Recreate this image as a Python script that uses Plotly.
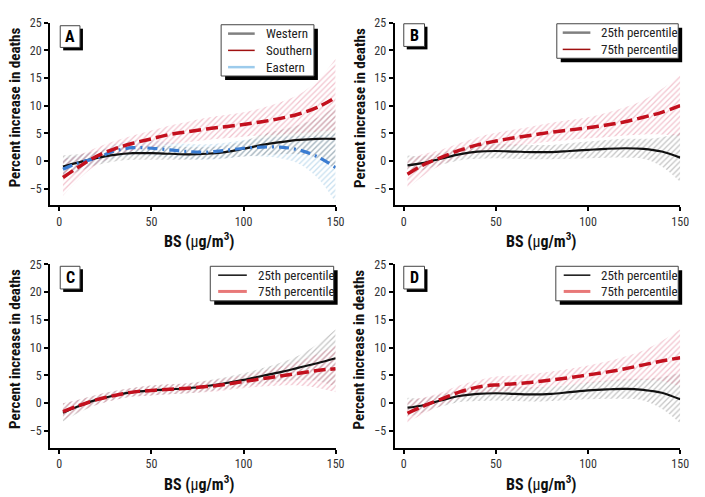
import plotly.graph_objects as go

W, H = 705, 497
FONT = "Liberation Sans Narrow, Arial Narrow, Roboto Condensed, Liberation Sans, sans-serif"

# ---------------- data ----------------
bs = [2, 10, 20, 30, 40, 50, 60, 70, 80, 90, 100, 110, 120, 130, 140, 150]

# Panel A: regions
a_west = [-1.0, -0.3, 0.5, 1.1, 1.4, 1.4, 1.3, 1.2, 1.3, 1.6, 2.2, 2.9, 3.4, 3.8, 4.0, 4.0]
a_west_lo = [-3.0, -2.0, -0.8, -0.1, 0.2, 0.2, 0.2, 0.2, 0.3, 0.5, 0.8, 1.0, 1.2, 1.2, 0.5, -1.5]
a_west_hi = [1.0, 1.2, 1.8, 2.4, 2.7, 2.8, 2.7, 2.5, 2.5, 2.8, 3.6, 4.8, 5.6, 6.5, 7.8, 9.8]
a_south = [-3.0, -1.2, 0.8, 2.2, 3.2, 4.0, 4.8, 5.3, 5.8, 6.2, 6.6, 7.1, 7.7, 8.5, 9.7, 11.5]
a_south_lo = [-6.3, -3.5, -0.8, 0.8, 1.8, 2.4, 3.0, 3.4, 3.8, 4.1, 4.4, 4.6, 4.8, 5.0, 5.3, 5.5]
a_south_hi = [0.3, 1.0, 2.4, 3.6, 4.6, 5.5, 6.4, 7.1, 7.8, 8.3, 8.8, 9.6, 10.6, 12.0, 14.5, 18.5]
a_east = [-1.5, -0.4, 0.5, 1.8, 2.4, 2.3, 2.0, 1.7, 1.6, 1.9, 2.3, 2.5, 2.5, 2.0, 0.8, -1.2]
a_east_lo = [-3.0, -1.8, -0.6, 0.5, 1.0, 0.9, 0.6, 0.3, 0.2, 0.4, 0.8, 0.8, 0.5, -0.5, -3.0, -7.5]
a_east_hi = [0.3, 1.0, 1.6, 3.0, 3.7, 3.7, 3.4, 3.1, 3.0, 3.3, 3.8, 4.1, 4.4, 4.5, 4.6, 5.0]

# Panel B
b_p25 = [-0.8, -0.4, 0.4, 1.2, 1.7, 1.8, 1.7, 1.6, 1.6, 1.8, 2.0, 2.2, 2.3, 2.2, 1.7, 0.6]
b_p25_lo = [-2.5, -1.7, -0.7, 0.1, 0.4, 0.5, 0.4, 0.3, 0.3, 0.4, 0.5, 0.6, 0.6, 0.4, -1.0, -3.8]
b_p25_hi = [1.0, 0.9, 1.5, 2.3, 3.0, 3.1, 3.0, 2.9, 2.9, 3.2, 3.5, 3.8, 4.0, 4.0, 4.3, 5.2]
b_p75 = [-2.4, -0.8, 0.6, 1.9, 2.9, 3.6, 4.2, 4.7, 5.2, 5.6, 6.0, 6.5, 7.1, 7.9, 8.8, 10.0]
b_p75_lo = [-5.0, -2.8, -0.8, 0.6, 1.5, 2.1, 2.7, 3.1, 3.5, 3.8, 4.1, 4.3, 4.6, 4.8, 4.8, 4.5]
b_p75_hi = [0.3, 1.2, 2.0, 3.2, 4.3, 5.1, 5.7, 6.3, 6.9, 7.4, 7.9, 8.7, 9.7, 11.0, 13.0, 15.5]

# Panel C
c_p25 = [-1.7, -0.6, 0.6, 1.4, 2.0, 2.3, 2.5, 2.7, 3.1, 3.6, 4.2, 4.9, 5.6, 6.4, 7.2, 8.1]
c_p25_lo = [-3.3, -1.8, -0.3, 0.6, 1.2, 1.4, 1.6, 1.8, 2.1, 2.5, 3.0, 3.5, 3.9, 4.2, 4.0, 3.0]
c_p25_hi = [0.0, 0.6, 1.5, 2.2, 2.8, 3.2, 3.4, 3.6, 4.1, 4.7, 5.4, 6.3, 7.3, 8.6, 10.6, 13.3]
c_p75 = [-1.5, -0.5, 0.6, 1.4, 2.0, 2.3, 2.5, 2.7, 3.0, 3.4, 3.9, 4.4, 4.9, 5.4, 5.9, 6.2]
c_p75_lo = [-3.0, -1.6, -0.3, 0.6, 1.2, 1.4, 1.6, 1.8, 2.0, 2.3, 2.7, 3.0, 3.2, 3.2, 2.8, 2.0]
c_p75_hi = [0.0, 0.6, 1.5, 2.2, 2.8, 3.2, 3.4, 3.6, 4.0, 4.5, 5.1, 5.8, 6.6, 7.6, 8.8, 10.5]

# Panel D
d_p25 = [-0.8, -0.4, 0.5, 1.3, 1.7, 1.8, 1.7, 1.6, 1.7, 2.0, 2.3, 2.5, 2.6, 2.4, 1.9, 0.7]
d_p25_lo = [-2.5, -1.7, -0.6, 0.2, 0.4, 0.5, 0.4, 0.3, 0.4, 0.6, 0.7, 0.8, 0.8, 0.5, -1.0, -3.6]
d_p25_hi = [1.0, 0.9, 1.6, 2.4, 3.0, 3.2, 3.0, 2.9, 3.0, 3.3, 3.8, 4.1, 4.4, 4.4, 4.7, 5.5]
d_p75 = [-1.8, -0.6, 0.7, 2.0, 2.9, 3.3, 3.5, 3.8, 4.2, 4.6, 5.1, 5.6, 6.2, 6.9, 7.6, 8.2]
d_p75_lo = [-3.5, -2.0, -0.5, 0.8, 1.7, 2.0, 2.3, 2.6, 3.0, 3.3, 3.6, 3.9, 4.1, 4.2, 4.0, 3.0]
d_p75_hi = [0.5, 1.0, 1.9, 3.2, 4.1, 4.8, 5.0, 5.3, 5.7, 6.2, 6.8, 7.5, 8.4, 9.5, 11.2, 13.3]

x_ticks = [0, 50, 100, 150]
y_ticks = [-5, 0, 5, 10, 15, 20, 25]
panel_labels = ["A", "B", "C", "D"]
legend_names = {
    1: ["Western", "Southern", "Eastern"],
    2: ["25th percentile", "75th percentile"],
    3: ["25th percentile", "75th percentile"],
    4: ["25th percentile", "75th percentile"],
}
x_title = "<b>BS (</b>μ<b>g/m<sup>3</sup>)</b>"
y_title = "<b>Percent increase in deaths</b>"

# ---------------- styles ----------------
BLACK = "#111111"
RED = "#c3101e"
BLUE = "#3a7cd2"
HATCH_GRAY = "#8a8a8a"
HATCH_PINK = "#e58aa0"
HATCH_BLUE = "#8fbfe0"

STYLE = {
    "solid": dict(color=BLACK, width=2.2, dash="solid"),
    "dash": dict(color=RED, width=3.5, dash="12px,5px"),
    "dashdot": dict(color=BLUE, width=3.2, dash="10px,5px,2px,5px"),
}
LEG_KEYS = {
    1: [("#808080", 2.5), ("#a01010", 1.5), ("#9ccbec", 2.5)],
    2: [("#808080", 2.5), ("#a01010", 1.5)],
    3: [("#111111", 1.5), ("#e87878", 3)],
    4: [("#111111", 1.5), ("#e87878", 3)],
}

PANELS = {
    1: (50.7, 340.0, 16.0, 201.0),
    2: (399.7, 689.0, 16.0, 201.0),
    3: (50.7, 340.0, 261.0, 447.0),
    4: (399.7, 689.0, 261.0, 447.0),
}

def px(x):
    return x / W

def py(y):
    return 1 - y / H

fig = go.Figure()

def axes(i):
    return ("x", "y") if i == 1 else (f"x{i}", f"y{i}")

def add_band(i, lo, hi, hatch):
    xa, ya = axes(i)
    fig.add_trace(go.Scatter(x=bs, y=hi, xaxis=xa, yaxis=ya, mode="lines",
                             line=dict(width=0, shape="spline"), showlegend=False,
                             hoverinfo="skip"))
    fig.add_trace(go.Scatter(x=bs, y=lo, xaxis=xa, yaxis=ya, mode="lines",
                             line=dict(width=0, shape="spline"), fill="tonexty",
                             fillcolor="rgba(0,0,0,0)",
                             fillpattern=dict(shape="/", fgcolor=hatch, size=4, solidity=0.32),
                             showlegend=False, hoverinfo="skip"))

def add_line(i, y, style, name):
    xa, ya = axes(i)
    fig.add_trace(go.Scatter(x=bs, y=y, xaxis=xa, yaxis=ya, mode="lines", name=name,
                             line=dict(shape="spline", **STYLE[style]), showlegend=False))

add_band(1, a_east_lo, a_east_hi, HATCH_BLUE)
add_band(1, a_west_lo, a_west_hi, HATCH_GRAY)
add_band(1, a_south_lo, a_south_hi, HATCH_PINK)
add_line(1, a_west, "solid", "Western")
add_line(1, a_east, "dashdot", "Eastern")
add_line(1, a_south, "dash", "Southern")

add_band(2, b_p25_lo, b_p25_hi, HATCH_GRAY)
add_band(2, b_p75_lo, b_p75_hi, HATCH_PINK)
add_line(2, b_p25, "solid", "25th percentile")
add_line(2, b_p75, "dash", "75th percentile")

add_band(3, c_p25_lo, c_p25_hi, HATCH_GRAY)
add_band(3, c_p75_lo, c_p75_hi, HATCH_PINK)
add_line(3, c_p25, "solid", "25th percentile")
add_line(3, c_p75, "dash", "75th percentile")

add_band(4, d_p25_lo, d_p25_hi, HATCH_GRAY)
add_band(4, d_p75_lo, d_p75_hi, HATCH_PINK)
add_line(4, d_p25, "solid", "25th percentile")
add_line(4, d_p75, "dash", "75th percentile")

layout = dict(
    width=W, height=H, margin=dict(l=0, r=0, t=0, b=0),
    paper_bgcolor="white", plot_bgcolor="white",
    font=dict(family=FONT, size=12, color="#222222"),
    showlegend=False,
)

axis_common = dict(showgrid=False, zeroline=False, showline=True, linecolor="black",
                   linewidth=2, ticks="outside", ticklen=4, tickwidth=1.5, tickcolor="black",
                   tickfont=dict(family=FONT, size=12, color="#333333"))

shapes = []
annotations = []
for i, (l, r, t, b) in PANELS.items():
    sx = "" if i == 1 else str(i)
    layout[f"xaxis{sx}"] = dict(axis_common, domain=[px(l), px(r)], range=[-5, 150],
                                tickvals=x_ticks, anchor=f"y{sx}")
    layout[f"yaxis{sx}"] = dict(axis_common, domain=[py(b), py(t)], range=[-8, 25],
                                tickvals=y_ticks, anchor=f"x{sx}")
    xc = 202 if i in (1, 3) else 548
    annotations.append(dict(text=x_title, xref="paper", yref="paper", x=px(xc), y=py(b + 36),
                            xanchor="center", yanchor="middle", showarrow=False,
                            font=dict(family=FONT, size=16, color="#111111")))
    yl = 15 if i in (1, 3) else 364
    annotations.append(dict(text=y_title, xref="paper", yref="paper", x=px(yl),
                            y=py(t + 86), xanchor="center", yanchor="middle", showarrow=False,
                            textangle=-90, font=dict(family=FONT, size=15, color="#111111")))

LEG = {
    1: (224, 318, 18, 70),
    2: (564, 687, 17, 52),
    3: (213, 338, 263, 298),
    4: (563, 687, 263, 298),
}
LEG_ROWS = {1: (231, 258, 267, 27, 17), 2: (570, 598, 607, 26, 17),
            3: (221, 250, 259, 272, 16.5), 4: (571, 598, 607, 272, 16.5)}
for i, (l, r, t, b) in LEG.items():
    shapes.append(dict(type="rect", xref="paper", yref="paper", x0=px(l + 4), x1=px(r + 4),
                       y0=py(b + 4), y1=py(t + 4), fillcolor="black", line=dict(width=0), layer="above"))
    shapes.append(dict(type="rect", xref="paper", yref="paper", x0=px(l), x1=px(r),
                       y0=py(b), y1=py(t), fillcolor="white", line=dict(color="#444444", width=1), layer="above"))
    k0, k1, tx, y0, dy = LEG_ROWS[i]
    for j, (name, (col, wd)) in enumerate(zip(legend_names[i], LEG_KEYS[i])):
        yy = y0 + j * dy
        shapes.append(dict(type="line", xref="paper", yref="paper", x0=px(k0), x1=px(k1),
                           y0=py(yy), y1=py(yy), line=dict(color=col, width=wd), layer="above"))
        annotations.append(dict(text=name, xref="paper", yref="paper", x=px(tx), y=py(yy),
                                xanchor="left", yanchor="middle", showarrow=False,
                                font=dict(family=FONT, size=13, color="#222222")))

LBL = {1: (61, 81, 19, 41), 2: (409, 430, 17, 40), 3: (61, 81, 263, 286), 4: (409, 430, 263, 286)}
for (i, (l, r, t, b)), lab in zip(LBL.items(), panel_labels):
    shapes.append(dict(type="rect", xref="paper", yref="paper", x0=px(l + 3), x1=px(r + 3),
                       y0=py(b + 3), y1=py(t + 3), fillcolor="black", line=dict(width=0), layer="above"))
    shapes.append(dict(type="rect", xref="paper", yref="paper", x0=px(l), x1=px(r),
                       y0=py(b), y1=py(t), fillcolor="white", line=dict(color="#444444", width=1), layer="above"))
    annotations.append(dict(text=f"<b>{lab}</b>", xref="paper", yref="paper",
                            x=px((l + r) / 2), y=py((t + b) / 2), xanchor="center", yanchor="middle",
                            showarrow=False, font=dict(family=FONT, size=16, color="black")))

layout["shapes"] = shapes
layout["annotations"] = annotations
fig.update_layout(**layout)
fig.write_html(
    "out.html",
    config={"displayModeBar": False},
    post_script=(
        "document.body.style.margin='0';document.body.style.padding='0';"
        "document.documentElement.style.overflow='hidden';"
        "var g=document.getElementsByClassName('plotly-graph-div')[0];"
        "g.style.position='absolute';g.style.top='0px';g.style.left='0px';"
    ),
)
